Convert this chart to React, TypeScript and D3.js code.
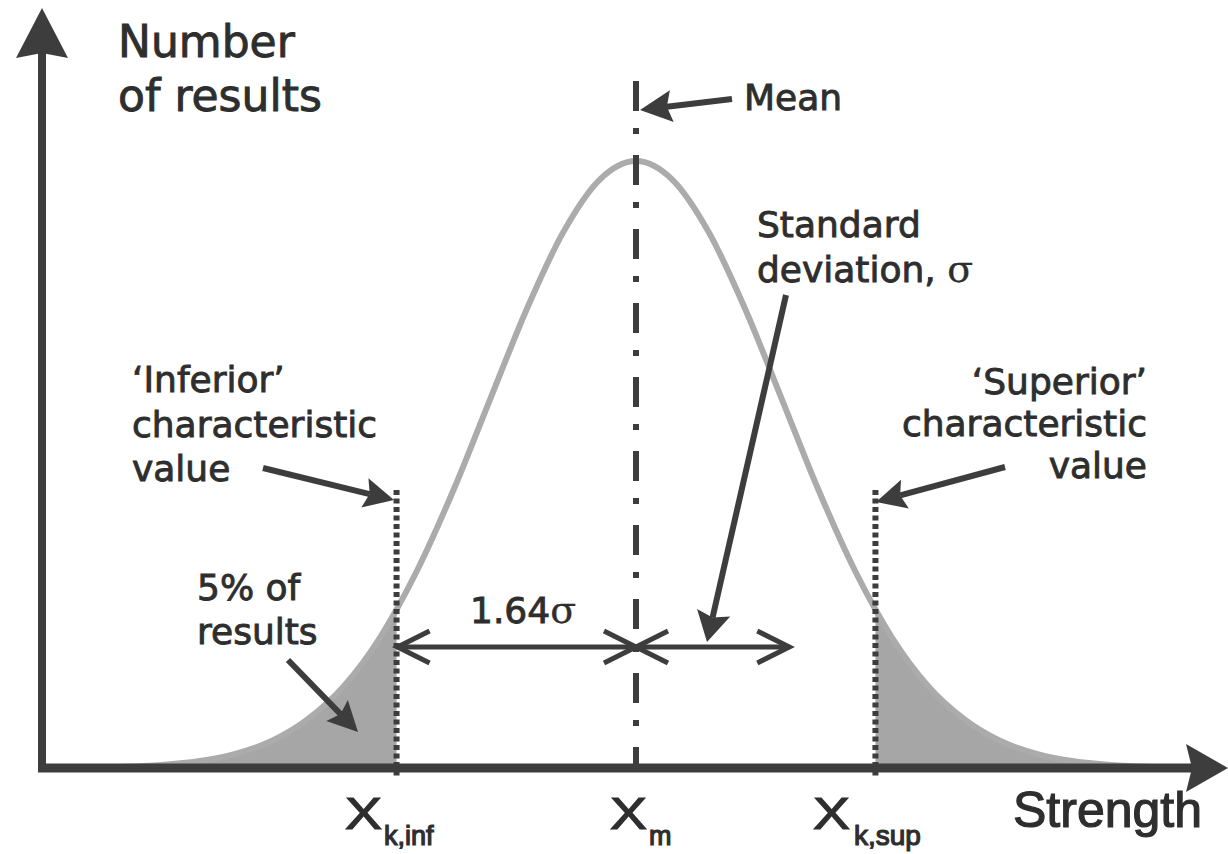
import React from "react"
import * as d3 from "d3"

// strength in units of sigma from the mean, number of results relative to the peak
const strength = [-4.05, -4, -3.75, -3.5, -3.25, -3, -2.75, -2.5, -2.25, -2, -1.75, -1.64, -1.5, -1.25, -1, -0.75, -0.5, -0.25, 0,
    0.25, 0.5, 0.75, 1, 1.25, 1.5, 1.64, 1.75, 2, 2.25, 2.5, 2.75, 3, 3.25, 3.5, 3.75, 4]
const results = [0.0002, 0.0003, 0.001, 0.002, 0.005, 0.011, 0.023, 0.044, 0.08, 0.135, 0.216, 0.261, 0.325, 0.458, 0.607, 0.755, 0.882, 0.969, 1,
    0.969, 0.882, 0.755, 0.607, 0.458, 0.325, 0.261, 0.216, 0.135, 0.08, 0.044, 0.023, 0.011, 0.005, 0.002, 0.001, 0.0003]

const kInf = -1.64
const kSup = 1.64
const sigmaEnd = 1.05

const axisColor = "#3d3d3d"
const textColor = "#2e2e2e"
const curveColor = "#ababab"
const tailColor = "#a6a6a6"
const sans = "'DejaVu Sans', Verdana, sans-serif"
const narrow = "'Liberation Sans', Arial, sans-serif"
const serif = "'DejaVu Serif', 'Liberation Serif', serif"

// filled barbed arrowhead
function head(tx: number, ty: number, fx: number, fy: number, len: number, half: number, notch: number) {
    const dx = tx - fx
    const dy = ty - fy
    const d = Math.sqrt(dx * dx + dy * dy)
    const ux = dx / d
    const uy = dy / d
    const nx = -uy
    const ny = ux
    const bx = tx - ux * len
    const by = ty - uy * len
    const cx = tx - ux * (len - notch)
    const cy = ty - uy * (len - notch)
    const path = `M${tx},${ty}L${bx + nx * half},${by + ny * half}L${cx},${cy}L${bx - nx * half},${by - ny * half}Z`
    return { path, cx, cy }
}

function Arrow({ from, to, len = 30, half = 15, notch = 5, width = 6 }: any) {
    const h = head(to[0], to[1], from[0], from[1], len, half, notch)
    return (
        <g>
            <line x1={from[0]} y1={from[1]} x2={h.cx} y2={h.cy} stroke={axisColor} strokeWidth={width} />
            <path d={h.path} fill={axisColor} />
        </g>
    )
}

// open chevron head pointing towards tip
function Chevron({ tip, dir }: any) {
    const bx = tip[0] - dir * 32
    return (
        <path d={`M${bx},${tip[1] - 16}L${tip[0]},${tip[1]}L${bx},${tip[1] + 16}`}
            fill="none" stroke={axisColor} strokeWidth={5} strokeLinejoin="miter" />
    )
}

export default function App() {
    const W = 1228
    const H = 854
    const x = d3.scaleLinear().domain([-4, 4]).range([636 - 4 * 146, 636 + 4 * 146])
    const y = d3.scaleLinear().domain([0, 1]).range([768, 161])

    const pts = strength.map((s, i) => [s, results[i]] as [number, number])
    const line = d3.line<[number, number]>().x(d => x(d[0])).y(d => y(d[1])).curve(d3.curveMonotoneX)
    const area = d3.area<[number, number]>().x(d => x(d[0])).y0(y(0)).y1(d => y(d[1])).curve(d3.curveMonotoneX)
    const leftTail = pts.filter(d => d[0] <= kInf)
    const rightTail = pts.filter(d => d[0] >= kSup)

    const axisY = y(0)
    const yAxisX = 42
    const arrowY = 647

    const yHead = head(yAxisX, 8, yAxisX, 100, 50, 26, 5)
    const xHead = head(1228, axisY, 1000, axisY, 42, 24, 6)

    const bold = { stroke: textColor, strokeWidth: 0.9 }

    return (
        <svg width={W} height={H} style={{ position: "absolute", left: 0, top: 0, background: "#fff" }}>
            <rect width={W} height={H} fill="#fff" />
            <path d={area(leftTail) || ""} fill={tailColor} />
            <path d={area(rightTail) || ""} fill={tailColor} />
            <path d={line(pts) || ""} fill="none" stroke={curveColor} strokeWidth={6} />

            {/* characteristic values */}
            {[kInf, kSup].map(k => (
                <line key={k} x1={x(k)} x2={x(k)} y1={490} y2={778}
                    stroke={axisColor} strokeWidth={6} strokeDasharray="5 3.5" />
            ))}
            {/* mean */}
            <line x1={x(0)} x2={x(0)} y1={81} y2={axisY} stroke={axisColor} strokeWidth={6}
                strokeDasharray="30 17 6 21" />

            {/* 1.64 sigma and sigma dimension arrows */}
            <line x1={x(kInf)} x2={x(0)} y1={arrowY} y2={arrowY} stroke={axisColor} strokeWidth={5} />
            <line x1={x(0)} x2={x(sigmaEnd)} y1={arrowY} y2={arrowY} stroke={axisColor} strokeWidth={5} />
            <Chevron tip={[x(kInf) + 1, arrowY]} dir={-1} />
            <Chevron tip={[x(0), arrowY]} dir={1} />
            <Chevron tip={[x(0), arrowY]} dir={-1} />
            <Chevron tip={[x(sigmaEnd), arrowY]} dir={1} />

            {/* annotation arrows */}
            <Arrow from={[732, 99]} to={[640, 110]} len={32} half={16} />
            <Arrow from={[786, 295]} to={[707, 642]} len={30} half={17} />
            <Arrow from={[263, 468]} to={[394, 500]} />
            <Arrow from={[1005, 467]} to={[876, 502]} />
            <Arrow from={[288, 660]} to={[358, 732]} />

            {/* axes */}
            <line x1={yAxisX} x2={yAxisX} y1={yHead.cy} y2={axisY + 4} stroke={axisColor} strokeWidth={8} />
            <path d={yHead.path} fill={axisColor} />
            <line x1={38} x2={xHead.cx} y1={axisY} y2={axisY} stroke={axisColor} strokeWidth={9} />
            <path d={xHead.path} fill={axisColor} />

            <g fill={textColor} fontFamily={sans} {...bold}>
                <text x={118} y={57} fontSize={44}>Number</text>
                <text x={118} y={111} fontSize={44}>of results</text>
                <text x={744} y={110} fontSize={36}>Mean</text>
                <text x={757} y={237} fontSize={36}>Standard</text>
                <text x={757} y={282} fontSize={36}>deviation, <tspan fontFamily={serif} fontSize={38} strokeWidth={0.3}>σ</tspan></text>
                <text x={132} y={392} fontSize={36}>‘Inferior’</text>
                <text x={132} y={437} fontSize={36}>characteristic</text>
                <text x={132} y={481} fontSize={36}>value</text>
                <text x={1147} y={394} fontSize={36} textAnchor="end">‘Superior’</text>
                <text x={1147} y={436} fontSize={36} textAnchor="end">characteristic</text>
                <text x={1147} y={478} fontSize={36} textAnchor="end">value</text>
                <text x={197} y={600} fontSize={36}>5% of</text>
                <text x={197} y={644} fontSize={36}>results</text>
                <text x={470} y={623} fontSize={36}>1.64<tspan fontFamily={serif} fontSize={38} strokeWidth={0.3}>σ</tspan></text>
            </g>

            <g fill={textColor} fontFamily={narrow} stroke={textColor} strokeWidth={1.2}>
                <text x={345} y={829} fontSize={45} textLength={37} lengthAdjust="spacingAndGlyphs">X</text>
                <text x={384} y={845} fontSize={27}>k,inf</text>
                <text x={610} y={829} fontSize={45} textLength={37} lengthAdjust="spacingAndGlyphs">X</text>
                <text x={649} y={845} fontSize={27}>m</text>
                <text x={813} y={829} fontSize={45} textLength={37} lengthAdjust="spacingAndGlyphs">X</text>
                <text x={854} y={845} fontSize={28}>k,sup</text>
                <text x={1013} y={827} fontSize={50}>Strength</text>
            </g>
        </svg>
    )
}
